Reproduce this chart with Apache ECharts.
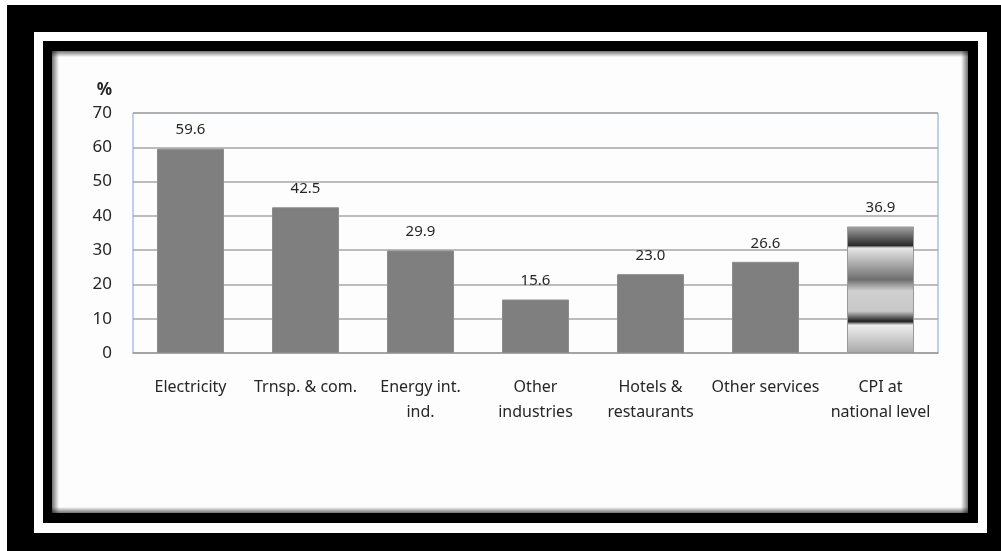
<!DOCTYPE html>
<html>
<head>
<meta charset="utf-8">
<style>
  html, body { margin: 0; padding: 0; background: #ffffff; }
  #chart { width: 1001px; height: 551px; }
</style>
<script src="https://cdn.jsdelivr.net/npm/echarts@6/dist/echarts.min.js"></script>
</head>
<body>
<div id="chart"></div>
<script>
// Price increase by sector, percent
const categories = [
  'Electricity',
  'Trnsp. & com.',
  'Energy int.\nind.',
  'Other\nindustries',
  'Hotels &\nrestaurants',
  'Other services',
  'CPI at\nnational level'
];
const values = [59.6, 42.5, 29.9, 15.6, 23.0, 26.6, 36.9];
const yTicks = { min: 0, max: 70, interval: 10 };

const FONT = '"Noto Sans", "Open Sans", sans-serif';
const TEXT = '#262626';

// banded metallic fill for the national CPI bar
const cpiFill = new echarts.graphic.LinearGradient(0, 0, 0, 1, [
  { offset: 0.00, color: '#a6a6a6' },
  { offset: 0.15, color: '#2a2a2a' },
  { offset: 0.17, color: '#e8e8e8' },
  { offset: 0.42, color: '#6e6e6e' },
  { offset: 0.51, color: '#d0d0d0' },
  { offset: 0.67, color: '#c8c8c8' },
  { offset: 0.75, color: '#1e1e1e' },
  { offset: 0.78, color: '#eeeeee' },
  { offset: 1.00, color: '#a8a8a8' }
]);

const barData = values.map((v, i) => {
  if (i === values.length - 1) {
    return { value: v, itemStyle: { color: cpiFill, borderColor: '#9a9a9a', borderWidth: 1 } };
  }
  return v;
});

// picture-frame decoration around the chart panel
function edgeShade(x, y, w, h, dir) {
  const g = {
    left:   [0, 0, 1, 0],
    right:  [1, 0, 0, 0],
    top:    [0, 0, 0, 1],
    bottom: [0, 1, 0, 0]
  }[dir];
  return {
    type: 'rect', z: -5, silent: true,
    shape: { x, y, width: w, height: h },
    style: {
      fill: new echarts.graphic.LinearGradient(g[0], g[1], g[2], g[3], [
        { offset: 0, color: 'rgba(0,0,0,0.55)' },
        { offset: 1, color: 'rgba(0,0,0,0)' }
      ])
    }
  };
}

const frame = [
  { type: 'rect', z: -10, silent: true, shape: { x: 7, y: 5, width: 1000, height: 560 }, style: { fill: '#000000' } },
  { type: 'rect', z: -9, silent: true, shape: { x: 34, y: 32, width: 953, height: 501 }, style: { fill: '#ffffff' } },
  { type: 'rect', z: -8, silent: true, shape: { x: 43, y: 41, width: 935, height: 482 }, style: { fill: '#000000' } },
  { type: 'rect', z: -7, silent: true, shape: { x: 52, y: 51, width: 916, height: 462 }, style: { fill: '#fdfdfd' } },
  edgeShade(52, 51, 7, 462, 'left'),
  edgeShade(961, 51, 7, 462, 'right'),
  edgeShade(52, 51, 916, 6, 'top'),
  edgeShade(52, 507, 916, 6, 'bottom')
];

const chart = echarts.init(document.getElementById('chart'), null, { renderer: 'canvas' });
chart.setOption({
  animation: false,
  backgroundColor: '#ffffff',
  graphic: frame,
  grid: {
    left: 133, right: 63, top: 113, bottom: 198,
    show: true, borderColor: '#7ea3d8', borderWidth: 1, backgroundColor: 'transparent'
  },
  xAxis: {
    type: 'category',
    data: categories,
    axisTick: { show: false },
    axisLine: { show: true, lineStyle: { color: '#a0a0a0', width: 1.5 } },
    axisLabel: {
      interval: 0,
      margin: 22,
      fontFamily: FONT, fontSize: 16, color: TEXT, lineHeight: 25
    }
  },
  yAxis: {
    type: 'value',
    min: yTicks.min, max: yTicks.max, interval: yTicks.interval,
    name: '%',
    nameLocation: 'end',
    nameGap: 14,
    nameTextStyle: { fontFamily: FONT, fontSize: 17, fontWeight: 'bold', color: TEXT, align: 'right', padding: [0, 21, 0, 0] },
    axisLine: { show: false },
    axisTick: { show: false },
    splitLine: { lineStyle: { color: '#a6a6a6', width: 1.5 } },
    axisLabel: { margin: 21, fontFamily: FONT, fontSize: 17, color: TEXT }
  },
  series: [{
    type: 'bar',
    data: barData,
    barWidth: 67,
    itemStyle: { color: '#7f7f7f', borderColor: '#8c8c8c', borderWidth: 1 },
    label: {
      show: true, position: 'top', distance: 11,
      fontFamily: FONT, fontSize: 15, color: TEXT,
      formatter: p => p.value.toFixed(1)
    }
  }]
});
</script>
</body>
</html>
